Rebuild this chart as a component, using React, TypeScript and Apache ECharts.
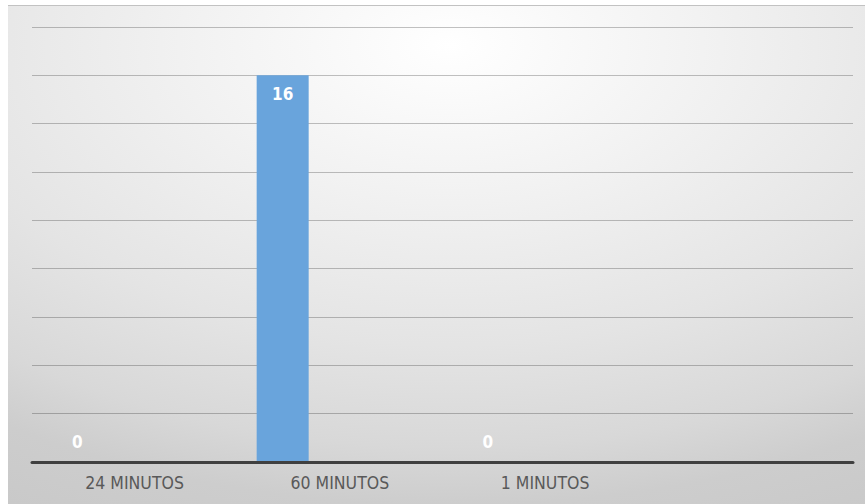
import React, { useEffect, useRef } from "react";
import * as echarts from "echarts";

// Categories along the x axis (last slot is left blank)
const categories: string[] = ["24 MINUTOS", "60 MINUTOS", "1 MINUTOS", ""];
// Values of the plotted series
const tiempos: (number | null)[] = [0, 16, 0, null];
// Companion series that reserve their slots in each category but hold no values
const serieB: (number | null)[] = [null, null, null, null];
const serieC: (number | null)[] = [null, null, null, null];
// Value axis range
const yMin = 0;
const yMax = 18;
const yStep = 2;

const W = 857;
const H = 499;
const FONT = '"Liberation Sans Narrow", "DejaVu Sans Condensed", "Open Sans", sans-serif';

export default function App() {
  const ref = useRef<HTMLDivElement>(null);

  useEffect(() => {
    if (!ref.current) return;
    const chart = echarts.init(ref.current, undefined, { renderer: "svg" });

    const mainData = tiempos.map((v) => ({
      value: v,
      label:
        v === 0
          ? { position: "top" as const, distance: 11 }
          : { position: "insideTop" as const, distance: 10 },
    }));

    chart.setOption({
      animation: false,
      backgroundColor: "transparent",
      graphic: [
        {
          type: "rect",
          z: -10,
          silent: true,
          shape: { x: 0, y: 0, width: W, height: H },
          style: {
            fill: new echarts.graphic.RadialGradient(0.516, 0.08, 1.28, [
              { offset: 0, color: "#ffffff" },
              { offset: 0.23, color: "#f2f2f2" },
              { offset: 0.47, color: "#e4e4e4" },
              { offset: 0.63, color: "#d8d8d8" },
              { offset: 0.72, color: "#cdcdcd" },
              { offset: 1, color: "#c2c2c2" },
            ]),
          },
        },
        {
          type: "line",
          z: -9,
          silent: true,
          shape: { x1: 0, y1: 0.5, x2: W, y2: 0.5 },
          style: { stroke: "#c2c2c2", lineWidth: 1 },
        },
      ],
      grid: { left: 24, right: 12, top: 22, bottom: 42, containLabel: false },
      xAxis: {
        type: "category",
        data: categories,
        axisTick: { show: false },
        axisLine: { show: true, lineStyle: { color: "#404040", width: 3 } },
        axisLabel: {
          color: "#595959",
          fontFamily: FONT,
          fontSize: 17.5,
          lineHeight: 20,
          margin: 11,
          interval: 0,
        },
        z: 5,
      },
      yAxis: {
        type: "value",
        min: yMin,
        max: yMax,
        interval: yStep,
        axisLabel: { show: false },
        axisLine: { show: false },
        axisTick: { show: false },
        splitLine: { show: true, lineStyle: { color: "rgba(0,0,0,0.24)", width: 1 } },
      },
      series: [
        {
          name: "Tiempo",
          type: "bar",
          data: mainData,
          barWidth: 52,
          barGap: "10%",
          itemStyle: { color: "#69a4dc" },
          label: {
            show: true,
            color: "#ffffff",
            fontFamily: FONT,
            fontWeight: "bold",
            fontSize: 17,
            lineHeight: 18,
          },
        },
        { name: "B", type: "bar", data: serieB, barWidth: 52, barGap: "10%" },
        { name: "C", type: "bar", data: serieC, barWidth: 52, barGap: "10%" },
      ],
    });

    return () => chart.dispose();
  }, []);

  return (
    <div
      ref={ref}
      style={{ position: "absolute", left: 8, top: 5, width: W, height: H }}
    />
  );
}
